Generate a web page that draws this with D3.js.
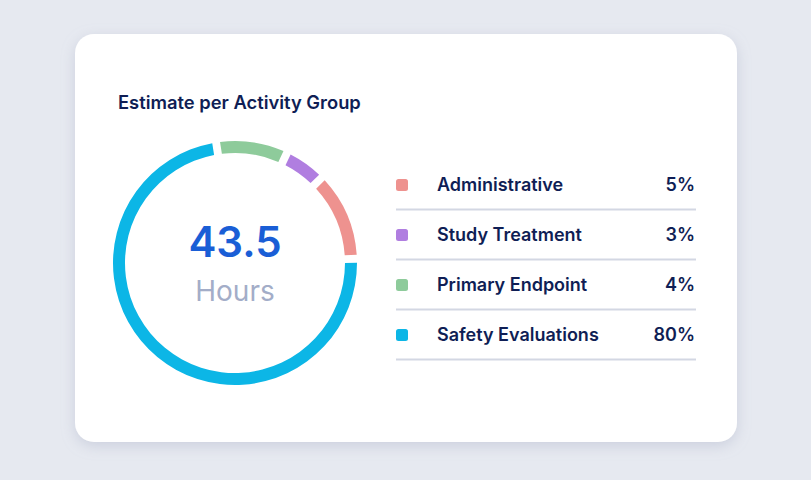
<!DOCTYPE html>
<html>
<head>
<meta charset="utf-8">
<script src="https://cdn.jsdelivr.net/npm/d3@7"></script>
<style>
  html, body { margin: 0; padding: 0; background: #e6e9f0; }
  svg { display: block; }
</style>
</head>
<body>
<svg id="chart" width="811" height="480"></svg>
<script>
// ---- data ----
const title = "Estimate per Activity Group";
const totalValue = "43.5";
const totalUnit = "Hours";
const categories = ["Administrative", "Study Treatment", "Primary Endpoint", "Safety Evaluations"];
const percentLabels = ["5%", "3%", "4%", "80%"];
// arc sizes as read from the ring (share of the circle)
const arcShares = [11.4, 5.0, 9.0, 74.6];
const colors = ["#ee928f", "#b07ee0", "#8ecb9b", "#0cb6e6"];

// ---- layout ----
const svg = d3.select("#chart");
const defs = svg.append("defs");
const f = defs.append("filter").attr("id", "shadow").attr("x", "-10%").attr("y", "-10%").attr("width", "120%").attr("height", "130%");
f.append("feDropShadow").attr("dx", 0).attr("dy", 4).attr("stdDeviation", 7).attr("flood-color", "#9aa3bd").attr("flood-opacity", 0.35);

svg.append("rect").attr("x", 75).attr("y", 34).attr("width", 662).attr("height", 408)
  .attr("rx", 19).attr("fill", "#ffffff").attr("filter", "url(#shadow)");

const font = "Inter, 'Noto Sans', sans-serif";
const navy = "#0f1e55";

const t = svg.append("text").attr("x", 118).attr("y", 109)
  .attr("font-family", font).attr("font-weight", 600).attr("font-size", 17)
  .attr("fill", navy).text(title);
// fit to reference width
const tw = t.node().getComputedTextLength();
t.attr("font-size", 17 * 243 / tw);

// donut
const cx = 235, cy = 263;
const pie = d3.pie().sort(null).value(d => d)
  .startAngle(88 * Math.PI / 180).endAngle(88 * Math.PI / 180 - 2 * Math.PI)
  .padAngle(0.048);
const arc = d3.arc().innerRadius(110).outerRadius(122);
const g = svg.append("g").attr("transform", `translate(${cx},${cy})`);
g.selectAll("path").data(pie(arcShares)).join("path")
  .attr("d", arc).attr("fill", (d, i) => colors[i]);

g.append("text").attr("y", -6).attr("text-anchor", "middle")
  .attr("font-family", font).attr("font-weight", 600).attr("font-size", 42)
  .attr("fill", "#1a5ed6").text(totalValue);
g.append("text").attr("y", 38).attr("text-anchor", "middle")
  .attr("font-family", font).attr("font-weight", 400).attr("font-size", 28)
  .attr("fill", "#a3adc8").text(totalUnit);

// legend
const y = d3.scaleBand().domain(categories).range([160, 360]);
const lg = svg.append("g");
const rows = lg.selectAll("g").data(categories).join("g")
  .attr("transform", d => `translate(0,${y(d)})`);
rows.append("rect").attr("x", 396).attr("y", y.bandwidth() / 2 - 6)
  .attr("width", 12).attr("height", 12).attr("rx", 2.5)
  .attr("fill", (d, i) => colors[i]);
rows.append("text").attr("x", 437).attr("y", y.bandwidth() / 2).attr("dy", "0.36em")
  .attr("font-family", font).attr("font-weight", 600).attr("font-size", 18)
  .attr("fill", navy).text(d => d);
rows.append("text").attr("x", 695).attr("y", y.bandwidth() / 2).attr("dy", "0.36em")
  .attr("text-anchor", "end")
  .attr("font-family", font).attr("font-weight", 600).attr("font-size", 18)
  .attr("fill", navy).text((d, i) => percentLabels[i]);
rows.append("line").attr("x1", 396).attr("x2", 696)
  .attr("y1", y.bandwidth() - 0.5).attr("y2", y.bandwidth() - 0.5)
  .attr("stroke", "#d3d7e3").attr("stroke-width", 2);
</script>
</body>
</html>
